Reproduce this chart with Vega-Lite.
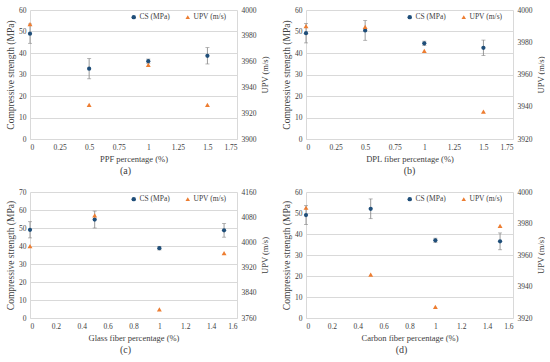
{
  "$schema": "https://vega.github.io/schema/vega-lite/v6.json",
  "background": "white",
  "padding": {"left": 5, "top": 6, "right": 0, "bottom": 0},
  "datasets": {
    "d": [
      {"p": "a", "x": 0, "cs": 49.0, "err": 4.5, "upv": 3989},
      {"p": "a", "x": 0.5, "cs": 32.7, "err": 4.7, "upv": 3926.5},
      {"p": "a", "x": 1, "cs": 36.2, "err": 1.0, "upv": 3957.5},
      {"p": "a", "x": 1.5, "cs": 38.7, "err": 3.8, "upv": 3926.5},
      {"p": "b", "x": 0, "cs": 49.2, "err": 4.5, "upv": 3990},
      {"p": "b", "x": 0.5, "cs": 50.5, "err": 4.6, "upv": 3989.5},
      {"p": "b", "x": 1, "cs": 44.5, "err": 1.0, "upv": 3974.7},
      {"p": "b", "x": 1.5, "cs": 42.4, "err": 3.6, "upv": 3937},
      {"p": "c", "x": 0, "cs": 49.0, "err": 4.5, "upv": 3988},
      {"p": "c", "x": 0.5, "cs": 54.7, "err": 4.7, "upv": 4086},
      {"p": "c", "x": 1, "cs": 38.8, "err": 1.0, "upv": 3787},
      {"p": "c", "x": 1.5, "cs": 48.7, "err": 3.8, "upv": 3966},
      {"p": "d", "x": 0, "cs": 49.0, "err": 4.5, "upv": 3990},
      {"p": "d", "x": 0.5, "cs": 52.0, "err": 4.7, "upv": 3947.5},
      {"p": "d", "x": 1, "cs": 37.0, "err": 1.0, "upv": 3927},
      {"p": "d", "x": 1.5, "cs": 36.5, "err": 4.0, "upv": 3978.5}
    ]
  },
  "config": {
    "font": "'Liberation Serif', 'Times New Roman', serif",
    "view": {"stroke": null},
    "axis": {
      "labelFont": "'Liberation Serif', 'Times New Roman', serif",
      "titleFont": "'Liberation Serif', 'Times New Roman', serif",
      "labelFontSize": 7.5,
      "titleFontSize": 8.5,
      "titleFontWeight": "normal",
      "labelColor": "#404040",
      "titleColor": "#404040",
      "domainColor": "#d9d9d9",
      "gridColor": "#d9d9d9",
      "ticks": false,
      "labelPadding": 4
    },
    "legend": {
      "labelFont": "'Liberation Serif', 'Times New Roman', serif",
      "labelFontSize": 7.5,
      "labelColor": "#404040"
    },
    "title": {
      "font": "'Liberation Serif', 'Times New Roman', serif",
      "fontSize": 10,
      "fontWeight": "normal",
      "color": "#404040"
    }
  },
  "columns": 2,
  "spacing": {"row": 12, "column": 12},
  "resolve": {"scale": {"color": "independent", "shape": "independent"}},
  "concat": [
    {
      "width": 207, "height": 129,
      "title": {"text": "(a)", "orient": "bottom", "frame": "group", "dx": -8, "offset": 3},
      "data": {"name": "d"},
      "transform": [{"filter": "datum.p === 'a'"}],
      "encoding": {
        "x": {"field": "x", "type": "quantitative", "scale": {"domain": [0, 1.75], "nice": false},
          "axis": {"values": [0, 0.25, 0.5, 0.75, 1, 1.25, 1.5, 1.75], "labelExpr": "'' + datum.value", "title": "PPF percentage (%)", "grid": false, "titlePadding": 4}}
      },
      "layer": [
        {
          "encoding": {
            "y": {"field": "cs", "type": "quantitative", "scale": {"domain": [0, 60], "nice": false},
              "axis": {"values": [0, 10, 20, 30, 40, 50, 60], "title": "Compressive strength (MPa)", "titleFontSize": 9.5, "titlePadding": 3}}
          },
          "layer": [
            {"mark": {"type": "errorbar", "ticks": {"size": 4, "color": "#808080"}, "color": "#808080", "thickness": 0.8},
             "encoding": {"yError": {"field": "err"}}},
            {"mark": {"type": "point", "filled": true, "size": 18, "opacity": 1},
             "encoding": {
               "color": {"datum": "CS (MPa)", "scale": {"domain": ["CS (MPa)", "UPV (m/s)"], "range": ["#1f4e79", "#ed7d31"]},
                 "legend": {"orient": "none", "legendX": 100, "legendY": 3, "direction": "horizontal", "title": null, "symbolSize": 20, "columnPadding": 14, "labelOffset": 2}},
               "shape": {"datum": "CS (MPa)", "scale": {"domain": ["CS (MPa)", "UPV (m/s)"], "range": ["circle", "triangle-up"]},
                 "legend": {"orient": "none", "legendX": 100, "legendY": 3, "direction": "horizontal", "title": null, "symbolSize": 20, "columnPadding": 14, "labelOffset": 2}}
             }}
          ]
        },
        {
          "mark": {"type": "point", "filled": true, "size": 24, "opacity": 1},
          "encoding": {
            "y": {"field": "upv", "type": "quantitative", "scale": {"domain": [3900, 4000], "nice": false, "zero": false},
              "axis": {"orient": "right", "values": [3900, 3920, 3940, 3960, 3980, 4000], "format": "d", "title": "UPV (m/s)", "titleAngle": 270, "titleBaseline": "top", "grid": false, "titlePadding": 4}},
            "color": {"datum": "UPV (m/s)"},
            "shape": {"datum": "UPV (m/s)"}
          }
        }
      ],
      "resolve": {"scale": {"y": "independent"}}
    },
    {
      "width": 207, "height": 129,
      "title": {"text": "(b)", "orient": "bottom", "frame": "group", "dx": 0, "offset": 3},
      "data": {"name": "d"},
      "transform": [{"filter": "datum.p === 'b'"}],
      "encoding": {
        "x": {"field": "x", "type": "quantitative", "scale": {"domain": [0, 1.75], "nice": false},
          "axis": {"values": [0, 0.25, 0.5, 0.75, 1, 1.25, 1.5, 1.75], "labelExpr": "'' + datum.value", "title": "DPL fiber percentage (%)", "grid": false, "titlePadding": 4}}
      },
      "layer": [
        {
          "encoding": {
            "y": {"field": "cs", "type": "quantitative", "scale": {"domain": [0, 60], "nice": false},
              "axis": {"values": [0, 10, 20, 30, 40, 50, 60], "title": "Compressive strength (MPa)", "titleFontSize": 9.5, "titlePadding": 3}}
          },
          "layer": [
            {"mark": {"type": "errorbar", "ticks": {"size": 4, "color": "#808080"}, "color": "#808080", "thickness": 0.8},
             "encoding": {"yError": {"field": "err"}}},
            {"mark": {"type": "point", "filled": true, "size": 18, "opacity": 1},
             "encoding": {
               "color": {"datum": "CS (MPa)", "scale": {"domain": ["CS (MPa)", "UPV (m/s)"], "range": ["#1f4e79", "#ed7d31"]},
                 "legend": {"orient": "none", "legendX": 100, "legendY": 3, "direction": "horizontal", "title": null, "symbolSize": 20, "columnPadding": 14, "labelOffset": 2}},
               "shape": {"datum": "CS (MPa)", "scale": {"domain": ["CS (MPa)", "UPV (m/s)"], "range": ["circle", "triangle-up"]},
                 "legend": {"orient": "none", "legendX": 100, "legendY": 3, "direction": "horizontal", "title": null, "symbolSize": 20, "columnPadding": 14, "labelOffset": 2}}
             }}
          ]
        },
        {
          "mark": {"type": "point", "filled": true, "size": 24, "opacity": 1},
          "encoding": {
            "y": {"field": "upv", "type": "quantitative", "scale": {"domain": [3920, 4000], "nice": false, "zero": false},
              "axis": {"orient": "right", "values": [3920, 3940, 3960, 3980, 4000], "format": "d", "title": "UPV (m/s)", "titleAngle": 270, "titleBaseline": "top", "grid": false, "titlePadding": 4}},
            "color": {"datum": "UPV (m/s)"},
            "shape": {"datum": "UPV (m/s)"}
          }
        }
      ],
      "resolve": {"scale": {"y": "independent"}}
    },
    {
      "width": 207, "height": 126,
      "title": {"text": "(c)", "orient": "bottom", "frame": "group", "dx": -8, "offset": 3},
      "data": {"name": "d"},
      "transform": [{"filter": "datum.p === 'c'"}],
      "encoding": {
        "x": {"field": "x", "type": "quantitative", "scale": {"domain": [0, 1.6], "nice": false},
          "axis": {"values": [0, 0.2, 0.4, 0.6, 0.8, 1, 1.2, 1.4, 1.6], "labelExpr": "'' + datum.value", "title": "Glass fiber percentage (%)", "grid": false, "titlePadding": 4}}
      },
      "layer": [
        {
          "encoding": {
            "y": {"field": "cs", "type": "quantitative", "scale": {"domain": [0, 70], "nice": false},
              "axis": {"values": [0, 10, 20, 30, 40, 50, 60, 70], "title": "Compressive strength (MPa)", "titleFontSize": 9.5, "titlePadding": 3}}
          },
          "layer": [
            {"mark": {"type": "errorbar", "ticks": {"size": 4, "color": "#808080"}, "color": "#808080", "thickness": 0.8},
             "encoding": {"yError": {"field": "err"}}},
            {"mark": {"type": "point", "filled": true, "size": 18, "opacity": 1},
             "encoding": {
               "color": {"datum": "CS (MPa)", "scale": {"domain": ["CS (MPa)", "UPV (m/s)"], "range": ["#1f4e79", "#ed7d31"]},
                 "legend": {"orient": "none", "legendX": 100, "legendY": 3, "direction": "horizontal", "title": null, "symbolSize": 20, "columnPadding": 14, "labelOffset": 2}},
               "shape": {"datum": "CS (MPa)", "scale": {"domain": ["CS (MPa)", "UPV (m/s)"], "range": ["circle", "triangle-up"]},
                 "legend": {"orient": "none", "legendX": 100, "legendY": 3, "direction": "horizontal", "title": null, "symbolSize": 20, "columnPadding": 14, "labelOffset": 2}}
             }}
          ]
        },
        {
          "mark": {"type": "point", "filled": true, "size": 24, "opacity": 1},
          "encoding": {
            "y": {"field": "upv", "type": "quantitative", "scale": {"domain": [3760, 4160], "nice": false, "zero": false},
              "axis": {"orient": "right", "values": [3760, 3840, 3920, 4000, 4080, 4160], "format": "d", "title": "UPV (m/s)", "titleAngle": 270, "titleBaseline": "top", "grid": false, "titlePadding": 4}},
            "color": {"datum": "UPV (m/s)"},
            "shape": {"datum": "UPV (m/s)"}
          }
        }
      ],
      "resolve": {"scale": {"y": "independent"}}
    },
    {
      "width": 207, "height": 126,
      "title": {"text": "(d)", "orient": "bottom", "frame": "group", "dx": -8, "offset": 3},
      "data": {"name": "d"},
      "transform": [{"filter": "datum.p === 'd'"}],
      "encoding": {
        "x": {"field": "x", "type": "quantitative", "scale": {"domain": [0, 1.6], "nice": false},
          "axis": {"values": [0, 0.2, 0.4, 0.6, 0.8, 1, 1.2, 1.4, 1.6], "labelExpr": "'' + datum.value", "title": "Carbon fiber percentage (%)", "grid": false, "titlePadding": 4}}
      },
      "layer": [
        {
          "encoding": {
            "y": {"field": "cs", "type": "quantitative", "scale": {"domain": [0, 60], "nice": false},
              "axis": {"values": [0, 10, 20, 30, 40, 50, 60], "title": "Compressive strength (MPa)", "titleFontSize": 9.5, "titlePadding": 3}}
          },
          "layer": [
            {"mark": {"type": "errorbar", "ticks": {"size": 4, "color": "#808080"}, "color": "#808080", "thickness": 0.8},
             "encoding": {"yError": {"field": "err"}}},
            {"mark": {"type": "point", "filled": true, "size": 18, "opacity": 1},
             "encoding": {
               "color": {"datum": "CS (MPa)", "scale": {"domain": ["CS (MPa)", "UPV (m/s)"], "range": ["#1f4e79", "#ed7d31"]},
                 "legend": {"orient": "none", "legendX": 100, "legendY": 3, "direction": "horizontal", "title": null, "symbolSize": 20, "columnPadding": 14, "labelOffset": 2}},
               "shape": {"datum": "CS (MPa)", "scale": {"domain": ["CS (MPa)", "UPV (m/s)"], "range": ["circle", "triangle-up"]},
                 "legend": {"orient": "none", "legendX": 100, "legendY": 3, "direction": "horizontal", "title": null, "symbolSize": 20, "columnPadding": 14, "labelOffset": 2}}
             }}
          ]
        },
        {
          "mark": {"type": "point", "filled": true, "size": 24, "opacity": 1},
          "encoding": {
            "y": {"field": "upv", "type": "quantitative", "scale": {"domain": [3920, 4000], "nice": false, "zero": false},
              "axis": {"orient": "right", "values": [3920, 3940, 3960, 3980, 4000], "format": "d", "title": "UPV (m/s)", "titleAngle": 270, "titleBaseline": "top", "grid": false, "titlePadding": 4}},
            "color": {"datum": "UPV (m/s)"},
            "shape": {"datum": "UPV (m/s)"}
          }
        }
      ],
      "resolve": {"scale": {"y": "independent"}}
    }
  ]
}
